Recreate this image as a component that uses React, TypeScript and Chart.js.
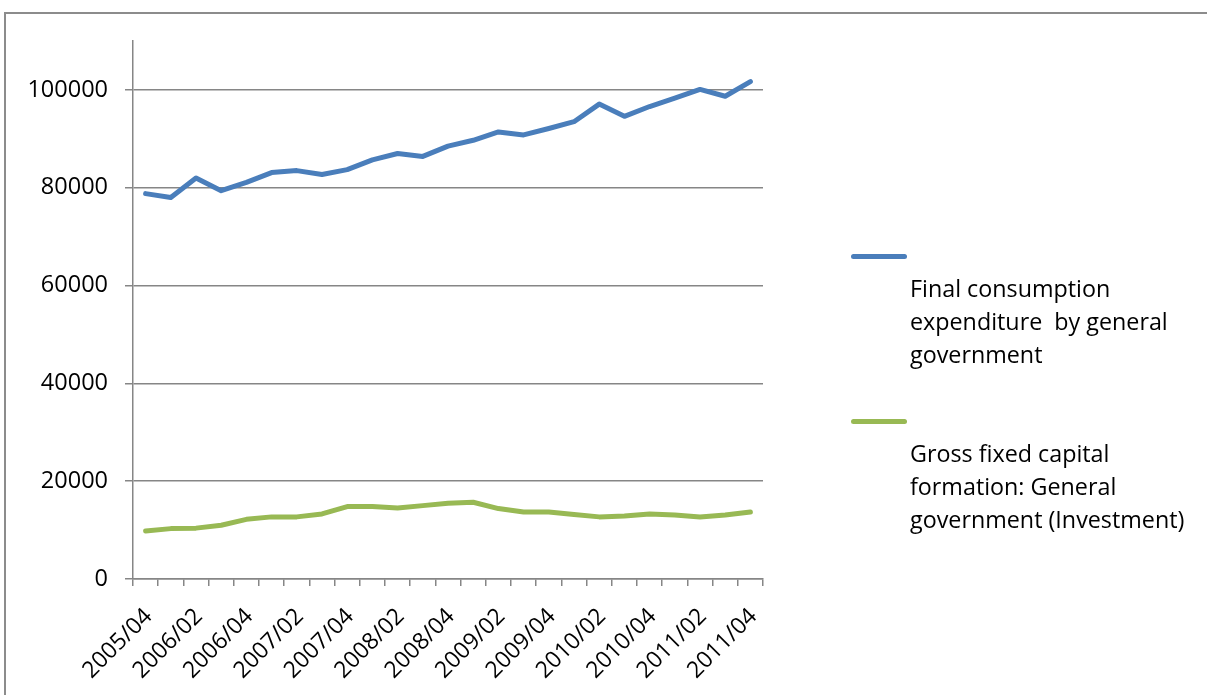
import React, { useEffect, useRef } from "react";
import { Chart, registerables } from "chart.js";

Chart.register(...registerables);

const categories = [
  "2005/04",
  "2006/01", "2006/02", "2006/03", "2006/04",
  "2007/01", "2007/02", "2007/03", "2007/04",
  "2008/01", "2008/02", "2008/03", "2008/04",
  "2009/01", "2009/02", "2009/03", "2009/04",
  "2010/01", "2010/02", "2010/03", "2010/04",
  "2011/01", "2011/02", "2011/03", "2011/04",
];

const consumption = [
  78800, 78000, 82000, 79400, 81100, 83100, 83500, 82700, 83700, 85700,
  87000, 86400, 88500, 89700, 91400, 90800, 92100, 93500, 97100, 94600,
  96600, 98300, 100100, 98700, 101700,
];

const investment = [
  9800, 10300, 10400, 11000, 12200, 12700, 12700, 13300, 14800, 14800,
  14500, 15000, 15500, 15700, 14400, 13700, 13700, 13200, 12700, 12900,
  13300, 13100, 12700, 13100, 13700,
];

const seriesNames = [
  "Final consumption expenditure  by general government",
  "Gross fixed capital formation: General government (Investment)",
];
const legendLines = [
  ["Final consumption", "expenditure  by general", "government"],
  ["Gross fixed capital", "formation: General", "government (Investment)"],
];
const seriesColors = ["#4a7ebb", "#98b954"];

const yMax = 110000;
const yStep = 20000;

const FONT = "'Open Sans', 'Noto Sans', sans-serif";
const GRID = "#868686";

export default function App() {
  const canvasRef = useRef<HTMLCanvasElement | null>(null);

  useEffect(() => {
    const canvas = canvasRef.current;
    if (!canvas) return;
    const chart = new Chart(canvas, {
      type: "line",
      data: {
        labels: categories,
        datasets: [
          {
            label: seriesNames[0],
            data: consumption,
            borderColor: seriesColors[0],
            backgroundColor: seriesColors[0],
            borderWidth: 5,
            pointRadius: 0,
            tension: 0,
            borderCapStyle: "round",
            borderJoinStyle: "round",
          },
          {
            label: seriesNames[1],
            data: investment,
            borderColor: seriesColors[1],
            backgroundColor: seriesColors[1],
            borderWidth: 5,
            pointRadius: 0,
            tension: 0,
            borderCapStyle: "round",
            borderJoinStyle: "round",
          },
        ],
      },
      options: {
        responsive: false,
        animation: false,
        layout: { padding: { left: 0, top: 41, right: 444, bottom: 0 } },
        plugins: { legend: { display: false }, tooltip: { enabled: false } },
        scales: {
          x: {
            type: "category",
            offset: true,
            grid: {
              offset: true,
              drawOnChartArea: false,
              drawTicks: true,
              tickLength: 7,
              color: GRID,
              lineWidth: 1.5,
            },
            border: { display: true, color: GRID, width: 1.5 },
            ticks: {
              autoSkip: false,
              minRotation: 45,
              maxRotation: 45,
              padding: 17,
              labelOffset: 3,
              color: "#000",
              font: { family: FONT, size: 23 },
              callback: (_v: any, i: number) => (i % 2 === 0 ? categories[i] : ""),
            },
            afterFit: (scale: any) => {
              scale.height = 116;
            },
          },
          y: {
            min: 0,
            max: yMax,
            grid: {
              color: (ctx: any) =>
                ctx.tick && ctx.tick.value % yStep === 0 ? GRID : "rgba(0,0,0,0)",
              lineWidth: 1.5,
              drawTicks: true,
              tickLength: 8,
            },
            border: { display: true, color: GRID, width: 1.5 },
            ticks: {
              autoSkip: false,
              stepSize: 10000,
              padding: 17,
              color: "#000",
              font: { family: FONT, size: 23.5 },
              callback: (v: any) => (Number(v) % yStep === 0 ? String(v) : ""),
            },
            afterFit: (scale: any) => {
              scale.width = 133;
            },
          },
        },
      },
    });
    return () => chart.destroy();
  }, []);

  const legendText: React.CSSProperties = {
    position: "absolute",
    left: 910,
    fontFamily: FONT,
    fontSize: 23.3,
    lineHeight: "33px",
    color: "#000",
    whiteSpace: "pre",
  };

  return (
    <div
      style={{
        position: "fixed",
        left: 0,
        top: 0,
        width: 1207,
        height: 695,
        overflow: "hidden",
        background: "#fff",
      }}
    >
      <div
        style={{
          position: "absolute",
          left: 4,
          top: 12,
          width: 1300,
          height: 800,
          borderLeft: "2px solid #8c8c8c",
          borderTop: "2px solid #8c8c8c",
        }}
      />
      <canvas
        ref={canvasRef}
        width={1207}
        height={695}
        style={{ position: "absolute", left: 0, top: 0, width: 1207, height: 695 }}
      />
      {[254, 419].map((top, k) => (
        <React.Fragment key={k}>
          <div
            style={{
              position: "absolute",
              left: 851,
              top,
              width: 56,
              height: 5,
              borderRadius: 3,
              background: seriesColors[k],
            }}
          />
          <div style={{ ...legendText, top: top + 18 }}>
            {legendLines[k].map((line, j) => (
              <div key={j}>{line}</div>
            ))}
          </div>
        </React.Fragment>
      ))}
    </div>
  );
}
